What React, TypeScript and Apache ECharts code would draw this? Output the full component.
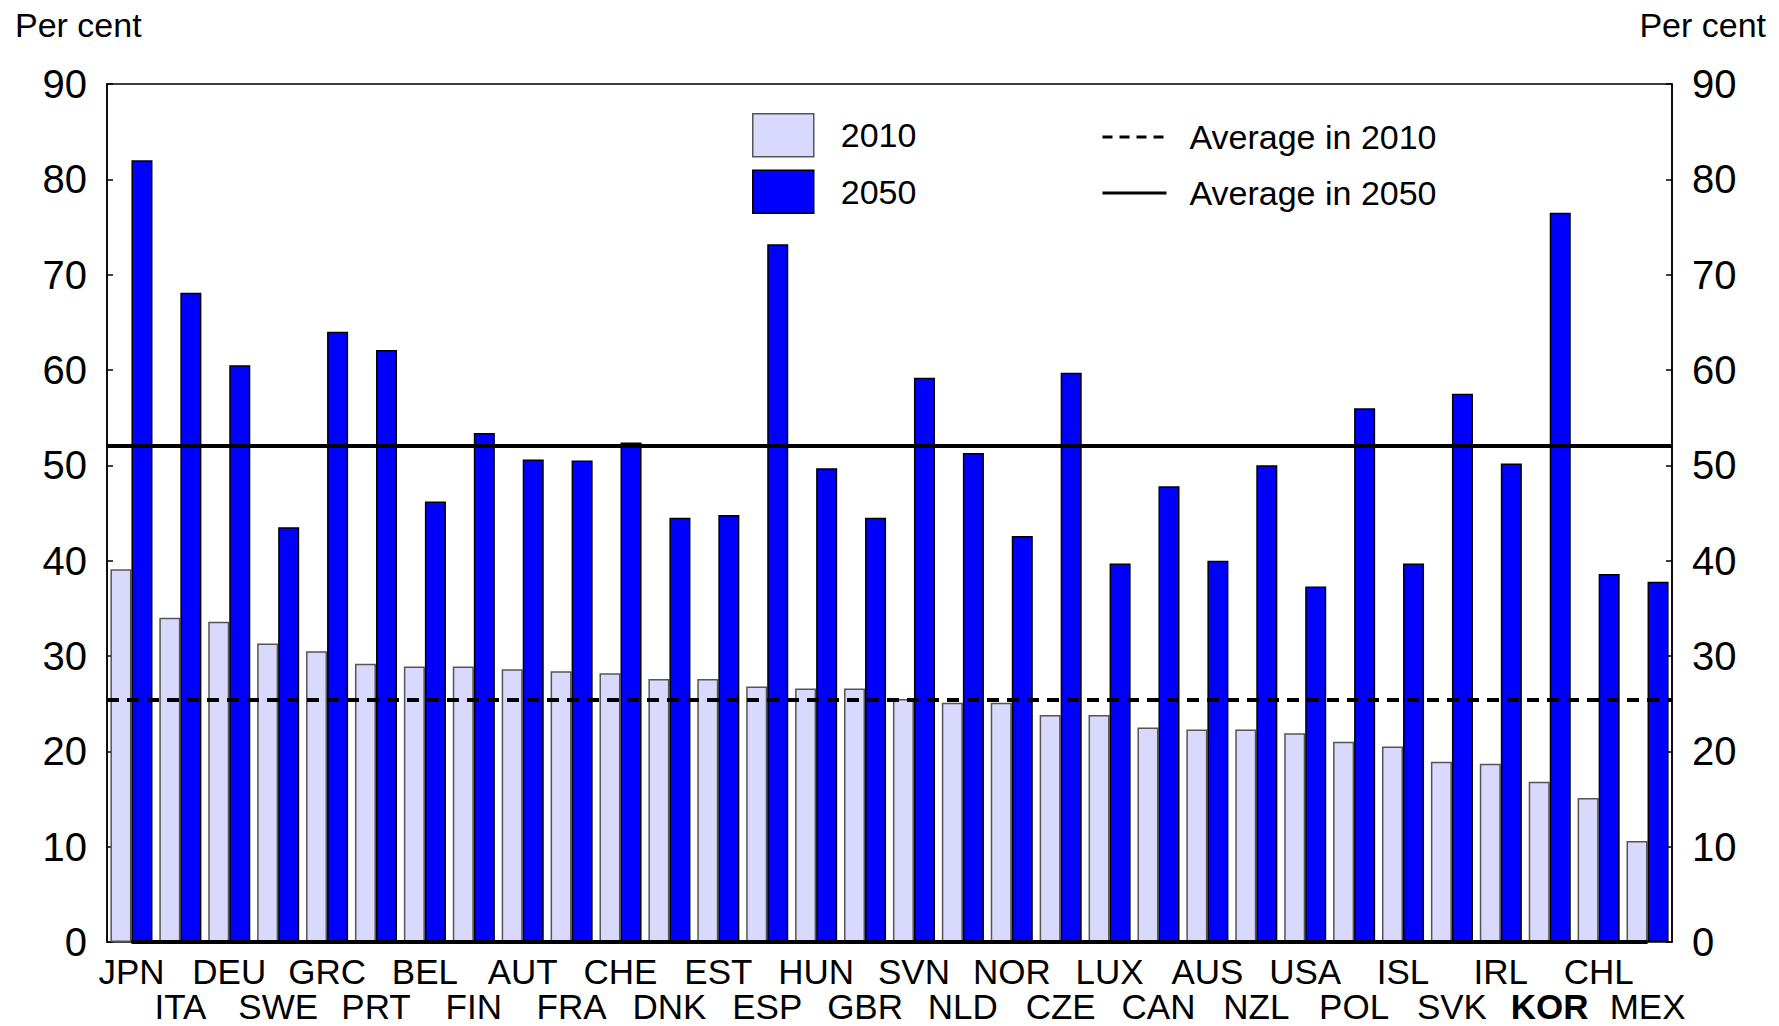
import React, { useEffect, useRef } from "react";
import * as echarts from "echarts";

const categories = ["JPN","ITA","DEU","SWE","GRC","PRT","BEL","FIN","AUT","FRA","CHE","DNK","EST","ESP","HUN","GBR","SVN","NLD","NOR","CZE","LUX","CAN","AUS","NZL","USA","POL","ISL","SVK","IRL","KOR","CHL","MEX"];
const values2010 = [39.1,34.0,33.6,31.3,30.5,29.2,28.9,28.9,28.6,28.4,28.2,27.6,27.6,26.8,26.6,26.6,25.5,25.1,25.1,23.8,23.8,22.5,22.3,22.3,21.9,21.0,20.5,18.9,18.7,16.8,15.1,10.6];
const values2050 = [82.0,68.1,60.5,43.5,64.0,62.1,46.2,53.4,50.6,50.5,52.4,44.5,44.8,73.2,49.7,44.5,59.2,51.3,42.6,59.7,39.7,47.8,40.0,50.0,37.3,56.0,39.7,57.5,50.2,76.5,38.6,37.8];
const zeroLine = categories.map(() => 0);
const average2010 = 25.4;
const average2050 = 52.1;
const boldCategories = ["KOR"];
const yTicks = { min: 0, max: 90, interval: 10 };

const FONT = "'Liberation Sans Narrow', 'Arial Narrow', 'Liberation Sans', Arial, sans-serif";

export default function App() {
  const ref = useRef<HTMLDivElement>(null);
  useEffect(() => {
    document.body.style.margin = "0";
    document.body.style.overflow = "hidden";
    const chart = echarts.init(ref.current!, null, { renderer: "svg" });
    const yAxisCommon = {
      type: "value",
      min: yTicks.min,
      max: yTicks.max,
      interval: yTicks.interval,
      splitLine: { show: false },
      axisLine: { show: true, lineStyle: { color: "#000", width: 1.5 } },
      axisTick: { show: true, inside: true, length: 6, lineStyle: { color: "#000", width: 1.5 } },
      axisLabel: { color: "#000", fontSize: 40, fontFamily: FONT, margin: 20 },
    };
    const titleStyle = { fontSize: 34, fontWeight: "normal", color: "#000", fontFamily: FONT };
    chart.setOption({
      animation: false,
      textStyle: { fontFamily: FONT, color: "#000" },
      title: [
        { text: "Per cent", left: 15, top: 8, padding: 0, textStyle: titleStyle },
        { text: "Per cent", right: 13, top: 8, padding: 0, textStyle: titleStyle },
      ],
      grid: { left: 107, right: 107, top: 84, bottom: 84, show: true, borderColor: "#000", borderWidth: 1.5, backgroundColor: "transparent" },
      legend: [
        {
          data: ["2010", "2050"],
          orient: "vertical",
          icon: "rect",
          left: 752,
          top: 113,
          padding: 0,
          itemWidth: 61,
          itemHeight: 43,
          itemGap: 12,
          selectedMode: false,
          itemStyle: { borderWidth: 1.5 },
          textStyle: { fontSize: 34, color: "#000", fontFamily: FONT, padding: [0, 0, 0, 22] },
        },
        {
          data: ["Average in 2010", "Average in 2050"],
          orient: "vertical",
          left: 1101,
          top: 120,
          padding: 0,
          itemWidth: 64,
          itemHeight: 42,
          itemGap: 22,
          selectedMode: false,
          lineStyle: { width: 3, color: "#000" },
          textStyle: { fontSize: 34, color: "#000", fontFamily: FONT, padding: [0, 0, 0, 18] },
        },
      ],
      xAxis: {
        type: "category",
        data: categories,
        boundaryGap: true,
        axisLine: { show: false },
        axisTick: { show: false },
        axisLabel: {
          interval: 0,
          margin: 12,
          fontSize: 35,
          lineHeight: 35,
          color: "#000",
          fontFamily: FONT,
          formatter: (value: string, index: number) => {
            const s = boldCategories.includes(value) ? "b" : "n";
            return (index % 2 ? "\n" : "") + `{${s}|${value}}`;
          },
          rich: {
            n: { fontSize: 35, lineHeight: 35, color: "#000", fontFamily: FONT, fontWeight: "normal" },
            b: { fontSize: 35, lineHeight: 35, color: "#000", fontFamily: FONT, fontWeight: "bold" },
          },
        },
      },
      yAxis: [
        { ...yAxisCommon, position: "left" },
        { ...yAxisCommon, position: "right" },
      ],
      series: [
        {
          name: "2010",
          type: "bar",
          data: values2010,
          barGap: "0%",
          barCategoryGap: "14%",
          itemStyle: { color: "#D9D9FD", borderColor: "#555", borderWidth: 1.5 },
        },
        {
          name: "2050",
          type: "bar",
          data: values2050,
          barGap: "0%",
          barCategoryGap: "14%",
          itemStyle: { color: "#0000FF", borderColor: "#000", borderWidth: 1.5 },
        },
        {
          name: "zero",
          type: "line",
          data: zeroLine,
          symbol: "none",
          z: 5,
          lineStyle: { color: "#000", width: 4 },
          silent: true,
        },
        {
          name: "Average in 2010",
          type: "line",
          data: [],
          symbol: "none",
          z: 6,
          itemStyle: { color: "transparent", borderColor: "transparent", borderWidth: 0 },
          lineStyle: { color: "#000", width: 3, type: [10, 7] },
          markLine: {
            silent: true,
            symbol: ["none", "none"],
            label: { show: false },
            lineStyle: { color: "#000", width: 4, type: [12, 8] },
            data: [{ yAxis: average2010 }],
          },
        },
        {
          name: "Average in 2050",
          type: "line",
          data: [],
          symbol: "none",
          z: 6,
          itemStyle: { color: "transparent", borderColor: "transparent", borderWidth: 0 },
          lineStyle: { color: "#000", width: 3, type: "solid" },
          markLine: {
            silent: true,
            symbol: ["none", "none"],
            label: { show: false },
            lineStyle: { color: "#000", width: 4, type: "solid" },
            data: [{ yAxis: average2050 }],
          },
        },
      ],
    });
    return () => chart.dispose();
  }, []);
  return <div ref={ref} style={{ width: 1779, height: 1026 }} />;
}
